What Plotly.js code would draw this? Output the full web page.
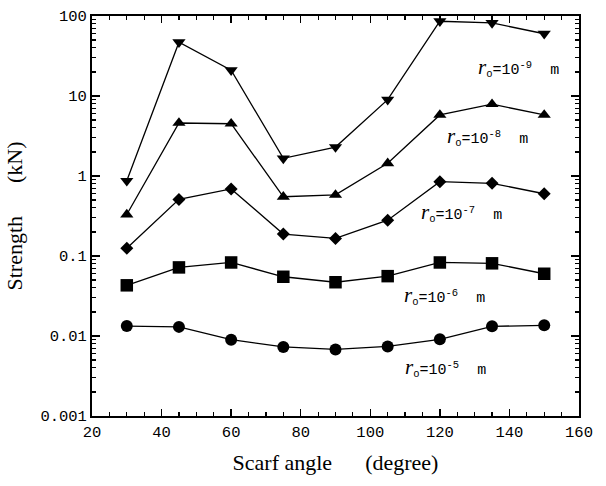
<!DOCTYPE html>
<html>
<head>
<meta charset="utf-8">
<script src="https://cdn.plot.ly/plotly-3.0.1.min.js"></script>
<style>html,body{margin:0;padding:0;background:#fff;}#chart{width:606px;height:486px;}</style>
</head>
<body>
<div id="chart"></div>
<script>
var angles = [30, 45, 60, 75, 90, 105, 120, 135, 150];
var r9 = [0.87, 47, 21, 1.66, 2.3, 9.0, 86, 82, 60];
var r8 = [0.33, 4.6, 4.5, 0.55, 0.58, 1.44, 5.8, 7.9, 5.8];
var r7 = [0.125, 0.51, 0.69, 0.188, 0.166, 0.28, 0.85, 0.81, 0.6];
var r6 = [0.043, 0.072, 0.083, 0.055, 0.047, 0.056, 0.083, 0.081, 0.06];
var r5 = [0.0133, 0.013, 0.009, 0.0073, 0.0068, 0.0074, 0.0091, 0.0132, 0.0136];
var yTickVals = [0.001, 0.01, 0.1, 1, 10, 100];
var yTickText = ["0.001", "0.01", "0.1", "1", "10", "100"];
var labels = ["-9", "-8", "-7", "-6", "-5"];

var minorY = [];
for (var e = -3; e < 2; e++) {
  for (var m = 2; m <= 9; m++) minorY.push(m * Math.pow(10, e));
}

function tr(y, sym, size) {
  return {
    x: angles, y: y, type: 'scatter', mode: 'lines+markers',
    line: {color: '#000', width: 1.3},
    marker: {symbol: sym, size: size, color: '#000'},
    showlegend: false, cliponaxis: false
  };
}
var data = [
  tr(r9, 'triangle-down', 11.5),
  tr(r8, 'triangle-up', 11.5),
  tr(r7, 'diamond', 10),
  tr(r6, 'square', 12.5),
  tr(r5, 'circle', 12)
];

var labelPos = [
  {x: 130.5, y: 1.36},
  {x: 121.5, y: 0.49},
  {x: 114, y: -0.46},
  {x: 109, y: -1.49},
  {x: 109.5, y: -2.39}
];
var monoFam = '"Liberation Mono", "DejaVu Sans Mono", monospace';
var serifFam = '"Liberation Serif", "DejaVu Serif", serif';
var annFont = {family: monoFam, size: 15, color: '#000'};
var annotations = labels.map(function (p, i) {
  return {
    x: labelPos[i].x, y: labelPos[i].y, xref: 'x', yref: 'y',
    xanchor: 'left', yanchor: 'middle', showarrow: false,
    text: '<span style="font-family:Liberation Serif;font-size:21px"><i>r</i></span><sub>o</sub>=10<sup>' + p + '</sup>\u00A0\u00A0m',
    font: annFont
  };
});

var tickFont = {family: monoFam, size: 15.5, color: '#000'};
var titleFont = {family: serifFam, size: 22, color: '#000'};

var layout = {
  width: 606, height: 486,
  margin: {l: 92, r: 27, t: 16, b: 70},
  paper_bgcolor: '#fff', plot_bgcolor: '#fff',
  showlegend: false,
  xaxis: {
    range: [20, 160], tickmode: 'linear', tick0: 20, dtick: 20,
    ticks: 'inside', ticklen: 7, tickwidth: 1.3, tickcolor: '#000',
    minor: {dtick: 5, ticks: 'inside', ticklen: 4, tickwidth: 1.2, tickcolor: '#000', showgrid: false},
    showline: true, linecolor: '#000', linewidth: 2, mirror: 'allticks',
    showgrid: false, zeroline: false,
    tickfont: tickFont,
    title: {text: 'Scarf angle\u00A0\u00A0\u00A0\u00A0\u00A0\u00A0(degree)', font: titleFont, standoff: 14}
  },
  yaxis: {
    type: 'log', range: [-3, 2],
    tickmode: 'array', tickvals: yTickVals, ticktext: yTickText,
    ticks: 'inside', ticklen: 8, tickwidth: 1.3, tickcolor: '#000',
    minor: {tickmode: 'array', tickvals: minorY, ticks: 'inside', ticklen: 4, tickwidth: 1.2, tickcolor: '#000', showgrid: false},
    showline: true, linecolor: '#000', linewidth: 2, mirror: 'allticks',
    showgrid: false, zeroline: false,
    tickfont: tickFont,
    title: {text: 'Strength\u00A0\u00A0\u00A0\u00A0\u00A0\u00A0(kN)', font: titleFont, standoff: 12}
  },
  annotations: annotations
};

Plotly.newPlot('chart', data, layout, {staticPlot: true, displayModeBar: false});
</script>
</body>
</html>
